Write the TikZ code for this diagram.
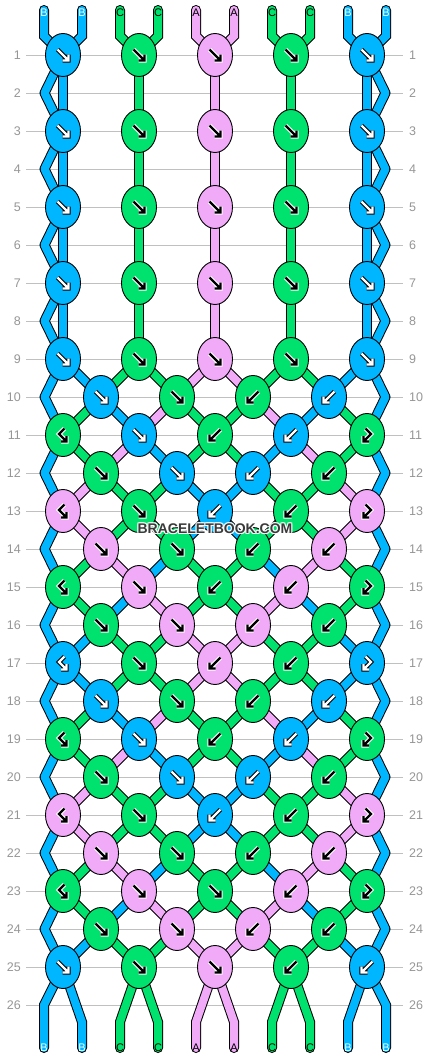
\documentclass[tikz,border=0pt]{standalone}
\usepackage{fontspec}
\setmainfont{Liberation Sans}
\usetikzlibrary{shapes.geometric}
\definecolor{knotB}{RGB}{0,183,255}
\definecolor{knotC}{RGB}{0,226,110}
\definecolor{knotA}{RGB}{240,170,248}
\colorlet{strB}{knotB}\colorlet{strC}{knotC}\colorlet{strA}{knotA}
\colorlet{afB}{white}\colorlet{aoB}{black}
\colorlet{afC}{black}\colorlet{aoC}{white}
\colorlet{afA}{black}\colorlet{aoA}{white}
\colorlet{lblB}{white}\colorlet{lblC}{black}\colorlet{lblA}{black}
\colorlet{arrfill}{white}\colorlet{arrline}{black}
\definecolor{gridgrey}{RGB}{192,192,192}
\definecolor{numgrey}{RGB}{150,150,150}
\definecolor{wmgrey}{RGB}{58,58,58}
\pgfdeclarelayer{gridlayer}
\pgfdeclarelayer{strandlayer}
\pgfsetlayers{gridlayer,strandlayer,main}
\newcommand\knotat[4]{%
  \pgfmathsetmacro\kx{isodd(#1) ? 63+76*(#2-1) : 101+76*(#2-1)}%
  \pgfmathsetmacro\ky{55+38*(#1-1)}%
  \node[knot, fill=knot#3] (k#1-#2) at (\kx,\ky) {};%
  \colorlet{arrfill}{af#3}\colorlet{arrline}{ao#3}%
  \pic at (\kx,\ky) {arr#4};%
}
\newcommand\seg[3]{%
  \draw[sout] (#2.center) -- (#3.center);
  \draw[sin, draw=str#1] (#2.center) -- (#3.center);
}
\begin{document}
\begin{tikzpicture}[x=1pt,y=-1pt,
  knot/.style={ellipse, draw=black, line width=0.9pt, minimum width=35pt, minimum height=43pt, inner sep=0pt},
  sout/.style={draw=black, line width=10pt},
  sin/.style={line width=8pt},
  aout/.style={draw=arrline, line width=4.4pt, line cap=square},
  ain/.style={draw=arrfill, line width=2.2pt, line cap=square},
  rowlbl/.style={text=numgrey, font=\fontsize{12.5}{14}\selectfont, inner sep=0pt},
  strlbl/.style={font=\fontsize{11}{12}\selectfont, inner sep=0pt},
  gridline/.style={draw=gridgrey, line width=1pt},
  wm/.style={font=\bfseries\fontsize{14}{16}\selectfont, inner sep=0pt},
  arrf/.pic={\draw[aout] (-5.5,-5.5)--(4.5,4.5) (-0.5,5.5)--(5.5,5.5)--(5.5,-0.5);
             \draw[ain] (-5.5,-5.5)--(4.5,4.5) (-0.5,5.5)--(5.5,5.5)--(5.5,-0.5);},
  arrb/.pic={\draw[aout] (5.5,-5.5)--(-4.5,4.5) (0.5,5.5)--(-5.5,5.5)--(-5.5,-0.5);
             \draw[ain] (5.5,-5.5)--(-4.5,4.5) (0.5,5.5)--(-5.5,5.5)--(-5.5,-0.5);},
  arrbf/.pic={\draw[aout] (1.5,-6.5)--(-4,-1)--(2.8,5.8) (-2,6.5)--(3.5,6.5)--(3.5,1);
              \draw[ain] (1.5,-6.5)--(-4,-1)--(2.8,5.8) (-2,6.5)--(3.5,6.5)--(3.5,1);},
  arrfb/.pic={\draw[aout] (-1.5,-6.5)--(4,-1)--(-2.8,5.8) (2,6.5)--(-3.5,6.5)--(-3.5,1);
              \draw[ain] (-1.5,-6.5)--(4,-1)--(-2.8,5.8) (2,6.5)--(-3.5,6.5)--(-3.5,1);}
]
\useasboundingbox (0,0) rectangle (430,1060);
\begin{pgfonlayer}{gridlayer}
  \fill[white] (0,0) rectangle (430,1060);
  \foreach \r in {1,...,26}{
    \pgfmathsetmacro\yy{55+38*(\r-1)}
    \draw[gridline] (26,\yy) -- (403,\yy);
  }
\end{pgfonlayer}
% row numbers
\foreach \r in {1,...,26}{
  \pgfmathsetmacro\yy{55+38*(\r-1)}
  \node[rowlbl, anchor=east] (rl\r) at (21,\yy) {\r};
  \node[rowlbl, anchor=west] (rr\r) at (409,\yy) {\r};
}
% knots
\foreach \r in {1,3,5,7,9}{
  \foreach \c/\col/\typ in {1/B/f,2/C/f,3/A/f,4/C/f,5/B/f}{
    \edef\tmp{\noexpand\knotat{\r}{\c}{\col}{\typ}}\tmp
  }
}
\foreach \r/\lst in {
  10/{1/B/f,2/C/f,3/C/b,4/B/b},
  11/{1/C/bf,2/B/f,3/C/b,4/B/b,5/C/fb},
  12/{1/C/f,2/B/f,3/B/b,4/C/b},
  13/{1/A/bf,2/C/f,3/B/b,4/C/b,5/A/fb},
  14/{1/A/f,2/C/f,3/C/b,4/A/b},
  15/{1/C/bf,2/A/f,3/C/b,4/A/b,5/C/fb},
  16/{1/C/f,2/A/f,3/A/b,4/C/b},
  17/{1/B/bf,2/C/f,3/A/b,4/C/b,5/B/fb},
  18/{1/B/f,2/C/f,3/C/b,4/B/b},
  19/{1/C/bf,2/B/f,3/C/b,4/B/b,5/C/fb},
  20/{1/C/f,2/B/f,3/B/b,4/C/b},
  21/{1/A/bf,2/C/f,3/B/b,4/C/b,5/A/fb},
  22/{1/A/f,2/C/f,3/C/b,4/A/b},
  23/{1/C/bf,2/A/f,3/C/f,4/A/b,5/C/fb},
  24/{1/C/f,2/A/f,3/A/b,4/C/b},
  25/{1/B/f,2/C/f,3/A/f,4/C/b,5/B/b}}{
  \foreach \c/\col/\typ in \lst {
    \edef\tmp{\noexpand\knotat{\r}{\c}{\col}{\typ}}\tmp
  }
}
% strands
\begin{pgfonlayer}{strandlayer}
  % top and bottom ends
  \foreach \p/\c/\ddx/\col/\by in {1/1/-19/B/1005,2/1/19/B/1022,3/2/-19/C/1022,4/2/19/C/1022,5/3/-19/A/1022,6/3/19/A/1022,7/4/-19/C/1022,8/4/19/C/1022,9/5/-19/B/1022,10/5/19/B/1005}{
    \pgfmathsetmacro\sx{63+76*(\c-1)+\ddx}
    \coordinate (tp\p) at (\sx,10);
    \coordinate (tb\p) at (\sx,36);
    \coordinate (bb\p) at (\sx,\by);
    \coordinate (be\p) at (\sx,1048);
    \draw[sout, line cap=round] (tp\p) -- (tb\p) -- (k1-\c.center);
    \draw[sin, line cap=round, draw=str\col] (tp\p) -- (tb\p) -- (k1-\c.center);
    \draw[sout, line cap=round] (k25-\c.center) -- (bb\p) -- (be\p);
    \draw[sin, line cap=round, draw=str\col] (k25-\c.center) -- (bb\p) -- (be\p);
  }
  % straight columns rows 1-9
  \foreach \r in {1,3,5,7}{
    \pgfmathtruncatemacro\rB{\r+2}
    \foreach \c/\col in {1/B,2/C,3/A,4/C,5/B}{
      \seg{\col}{k\r-\c}{k\rB-\c}
    }
  }
  % edge zigzags
  \foreach \r in {1,3,...,23}{
    \pgfmathtruncatemacro\rA{\r+1}
    \pgfmathtruncatemacro\rB{\r+2}
    \pgfmathsetmacro\yy{55+38*\r}
    \coordinate (eL\rA) at (44.5,\yy);
    \coordinate (eR\rA) at (385.5,\yy);
    \draw[sout, line join=round] (k\r-1.center) -- (eL\rA) -- (k\rB-1.center);
    \draw[sin, line join=round, draw=strB] (k\r-1.center) -- (eL\rA) -- (k\rB-1.center);
    \draw[sout, line join=round] (k\r-5.center) -- (eR\rA) -- (k\rB-5.center);
    \draw[sin, line join=round, draw=strB] (k\r-5.center) -- (eR\rA) -- (k\rB-5.center);
  }
  % diagonal segments rows 9-25
  \foreach \r/\sgA/\sgB/\sgC/\sgD/\sgE/\sgF/\sgG/\sgH in {
    9/B/C/C/A/A/C/C/B, 10/C/B/A/C/C/A/B/C, 11/C/A/B/C/C/B/A/C, 12/A/C/C/B/B/C/C/A,
    13/A/C/C/B/B/C/C/A, 14/C/A/B/C/C/B/A/C, 15/C/B/A/C/C/A/B/C, 16/B/C/C/A/A/C/C/B,
    17/B/C/C/A/A/C/C/B, 18/C/B/A/C/C/A/B/C, 19/C/A/B/C/C/B/A/C, 20/A/C/C/B/B/C/C/A,
    21/A/C/C/B/B/C/C/A, 22/C/A/B/C/C/B/A/C, 23/C/B/A/C/C/A/B/C, 24/B/C/C/A/A/C/C/B}{
    \pgfmathtruncatemacro\rO{isodd(\r) ? \r : \r+1}
    \pgfmathtruncatemacro\rE{isodd(\r) ? \r+1 : \r}
    \seg{\sgA}{k\rO-1}{k\rE-1}
    \seg{\sgB}{k\rO-2}{k\rE-1}
    \seg{\sgC}{k\rO-2}{k\rE-2}
    \seg{\sgD}{k\rO-3}{k\rE-2}
    \seg{\sgE}{k\rO-3}{k\rE-3}
    \seg{\sgF}{k\rO-4}{k\rE-3}
    \seg{\sgG}{k\rO-4}{k\rE-4}
    \seg{\sgH}{k\rO-5}{k\rE-4}
  }
\end{pgfonlayer}
% strand labels
\foreach \p/\c/\ddx/\col in {1/1/-19/B,2/1/19/B,3/2/-19/C,4/2/19/C,5/3/-19/A,6/3/19/A,7/4/-19/C,8/4/19/C,9/5/-19/B,10/5/19/B}{
  \pgfmathsetmacro\sx{63+76*(\c-1)+\ddx}
  \node[strlbl, text=lbl\col] (tl\p) at (\sx,13) {\col};
  \node[strlbl, text=lbl\col] (bl\p) at (\sx,1048) {\col};
}
% watermark
\foreach \i/\ddx/\ddy in {1/-1/0,2/1/0,3/0/-1,4/0/1,5/-1/-1,6/1/1,7/-1/1,8/1/-1}{
  \node[wm, text=white, opacity=0.8] (wmh\i) at (215+\ddx,529+\ddy) {BRACELETBOOK.COM};
}
\node[wm, text=wmgrey] (wm) at (215,529) {BRACELETBOOK.COM};
\end{tikzpicture}
\end{document}
